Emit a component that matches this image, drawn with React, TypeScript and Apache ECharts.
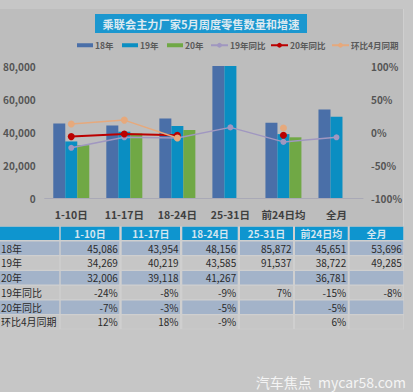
import React, { useEffect, useRef } from "react";
import * as echarts from "echarts";

const categories = ["1-10日", "11-17日", "18-24日", "25-31日", "前24日均", "全月"];
const sales18 = [45086, 43954, 48156, 85872, 45651, 53696];
const sales19 = [34269, 40219, 43585, 91537, 38722, 49285];
const sales20: (number | null)[] = [32006, 39118, 41267, null, 36781, null];
const yoy19: (number | null)[] = [-24, -8, -9, 7, -15, -8];
const yoy20: (number | null)[] = [-7, -3, -5, null, -5, null];
const vsApril: (number | null)[] = [12, 18, -9, null, 6, null];
const seriesNames = ["18年", "19年", "20年", "19年同比", "20年同比", "环比4月同期"];
const rowLabels = ["18年", "19年", "20年", "19年同比", "20年同比", "环比4月同期"];
const titleText = "乘联会主力厂家5月周度零售数量和增速";
const watermark = "汽车焦点  mycar58.com";

const FONT = '"Noto Sans CJK SC", "Noto Sans", sans-serif';

const C18 = "#4a6fa8";
const C19 = "#0a8ec2";
const C20 = "#70a845";
const CP = "#a097c0";
const CR = "#bb0000";
const CO = "#e6a97c";

// layout
const legendLefts = [77, 122, 167, 210, 270, 331];
const labelCol = [0, 59.3];
const colEdges = [
  [60.7, 119.3],
  [121.7, 180],
  [182.3, 237.7],
  [240, 293],
  [295, 347.7],
  [349.7, 403.3],
];

function fmtNum(v: number | null) {
  if (v === null || v === undefined) return "";
  return v.toLocaleString("en-US");
}
function fmtPct(v: number | null) {
  if (v === null || v === undefined) return "";
  return v + "%";
}

export default function App() {
  const ref = useRef<HTMLDivElement>(null);
  useEffect(() => {
    if (!ref.current) return;
    const chart = echarts.init(ref.current, undefined, { renderer: "svg" });

    const rows = [
      sales18.map(fmtNum),
      sales19.map(fmtNum),
      sales20.map(fmtNum),
      yoy19.map(fmtPct),
      yoy20.map(fmtPct),
      vsApril.map(fmtPct),
    ];

    const els: any[] = [];
    els.push({ type: "rect", shape: { x: 0, y: 0, width: 413, height: 9 }, style: { fill: "#c6c6c6" }, silent: true });
    els.push({ type: "rect", shape: { x: 403.5, y: 0, width: 10, height: 392 }, style: { fill: "#c6c6c6" }, silent: true });
    els.push({ type: "rect", shape: { x: 0, y: 329.5, width: 413, height: 63 }, style: { fill: "#c6c6c6" }, silent: true });
    els.push({ type: "line", shape: { x1: 403.5, y1: 9, x2: 403.5, y2: 226 }, style: { stroke: "#cfcfcf", lineWidth: 1 }, silent: true });
    els.push({ type: "rect", shape: { x: 95, y: 14, width: 212, height: 19 }, style: { fill: "#1b97cf" }, silent: true });
    els.push({
      type: "text",
      x: 201,
      y: 23.5,
      style: { text: titleText, fill: "#dce9f1", font: `bold 11.2px ${FONT}`, align: "center", verticalAlign: "middle", textAlign: "center", textVerticalAlign: "middle" },
      silent: true,
    });

    els.push({ type: "rect", shape: { x: 0, y: 226.5, width: 404, height: 103 }, style: { fill: "#cfcfcf" }, silent: true });
    const headTop = 226.7;
    const headH = 13.3;
    els.push({ type: "rect", shape: { x: labelCol[0], y: headTop, width: labelCol[1] - labelCol[0], height: headH }, style: { fill: "#0e95cf" }, silent: true });
    colEdges.forEach((c, j) => {
      els.push({ type: "rect", shape: { x: c[0], y: headTop, width: c[1] - c[0], height: headH }, style: { fill: "#0e95cf" }, silent: true });
      els.push({
        type: "text",
        x: (c[0] + c[1]) / 2,
        y: headTop + headH / 2,
        style: { text: categories[j], fill: "#d3e6f0", font: `bold 10px ${FONT}`, align: "center", verticalAlign: "middle", textAlign: "center", textVerticalAlign: "middle" },
        silent: true,
      });
    });
    rowLabels.forEach((lab, i) => {
      const top = 241.5 + i * 14.75;
      const h = 13.4;
      const fill = i % 2 === 0 ? "#a3b3c9" : "#c6c6c6";
      els.push({ type: "rect", shape: { x: labelCol[0], y: top, width: labelCol[1] - labelCol[0], height: h }, style: { fill }, silent: true });
      els.push({
        type: "text",
        x: 1,
        y: top + h / 2,
        style: { text: lab, fill: "#2b2b2b", font: `10px ${FONT}`, align: "left", verticalAlign: "middle", textAlign: "left", textVerticalAlign: "middle" },
        silent: true,
      });
      colEdges.forEach((c, j) => {
        els.push({ type: "rect", shape: { x: c[0], y: top, width: c[1] - c[0], height: h }, style: { fill }, silent: true });
        els.push({
          type: "text",
          x: c[1] - 1.5,
          y: top + h / 2,
          style: { text: rows[i][j], fill: "#2b2b2b", font: `10px ${FONT}`, align: "right", verticalAlign: "middle", textAlign: "right", textVerticalAlign: "middle" },
          silent: true,
        });
      });
    });
    els.push({
      type: "text",
      x: 406,
      y: 382,
      style: { text: watermark, fill: "#f4f4f4", font: `14px ${FONT}`, align: "right", verticalAlign: "middle", textAlign: "right", textVerticalAlign: "middle" },
      silent: true,
    });

    const legendText = { fontSize: 8.5, fontWeight: "bold", color: "#5a5a5a", fontFamily: FONT };
    const legends = seriesNames.map((name, i) => ({
      data: [name],
      left: legendLefts[i],
      top: 41,
      padding: 0,
      icon: i < 3 ? "rect" : undefined,
      itemWidth: i < 3 ? 16 : 17,
      itemHeight: i < 3 ? 4 : 6,
      itemGap: 0,
      textStyle: { ...legendText, padding: [0, 0, 0, -3] },
    }));

    chart.setOption({
      animation: false,
      backgroundColor: "#bdbdbd",
      textStyle: { fontFamily: FONT },
      graphic: { elements: els },
      legend: legends,
      grid: { left: 42, right: 50, top: 66, bottom: 194 },
      xAxis: {
        type: "category",
        data: categories,
        axisTick: { show: false },
        axisLine: { lineStyle: { color: "#a9a9b6", width: 1 } },
        axisLabel: { interval: 0, margin: 11, fontSize: 10.5, fontWeight: "bold", color: "#404040", fontFamily: FONT },
      },
      yAxis: [
        {
          type: "value",
          min: 0,
          max: 80000,
          interval: 20000,
          splitLine: { show: false },
          axisLine: { show: false },
          axisTick: { show: false },
          axisLabel: {
            margin: 9,
            fontSize: 10,
            fontWeight: "bold",
            color: "#555",
            fontFamily: FONT,
            formatter: (v: number) => v.toLocaleString("en-US"),
          },
        },
        {
          type: "value",
          min: -100,
          max: 100,
          interval: 50,
          splitLine: { show: false },
          axisLine: { show: false },
          axisTick: { show: false },
          axisLabel: { margin: 8, fontSize: 10, fontWeight: "bold", color: "#555", fontFamily: FONT, formatter: "{value}%" },
        },
      ],
      series: [
        { name: seriesNames[0], type: "bar", data: sales18, barWidth: 12, barGap: "0%", itemStyle: { color: C18 } },
        { name: seriesNames[1], type: "bar", data: sales19, barWidth: 12, barGap: "0%", itemStyle: { color: C19 } },
        { name: seriesNames[2], type: "bar", data: sales20, barWidth: 12, barGap: "0%", itemStyle: { color: C20 } },
        {
          name: seriesNames[3],
          type: "line",
          yAxisIndex: 1,
          data: yoy19,
          symbol: "circle",
          symbolSize: 6,
          lineStyle: { color: CP, width: 1.5 },
          itemStyle: { color: CP },
        },
        {
          name: seriesNames[4],
          type: "line",
          yAxisIndex: 1,
          data: yoy20,
          symbol: "circle",
          symbolSize: 7,
          lineStyle: { color: CR, width: 2 },
          itemStyle: { color: CR },
        },
        {
          name: seriesNames[5],
          type: "line",
          yAxisIndex: 1,
          data: vsApril,
          symbol: "circle",
          symbolSize: 7,
          lineStyle: { color: CO, width: 1.5 },
          itemStyle: { color: CO },
        },
      ],
    });
    return () => chart.dispose();
  }, []);
  return <div ref={ref} style={{ position: "absolute", left: 0, top: 0, width: 413, height: 392 }} />;
}
